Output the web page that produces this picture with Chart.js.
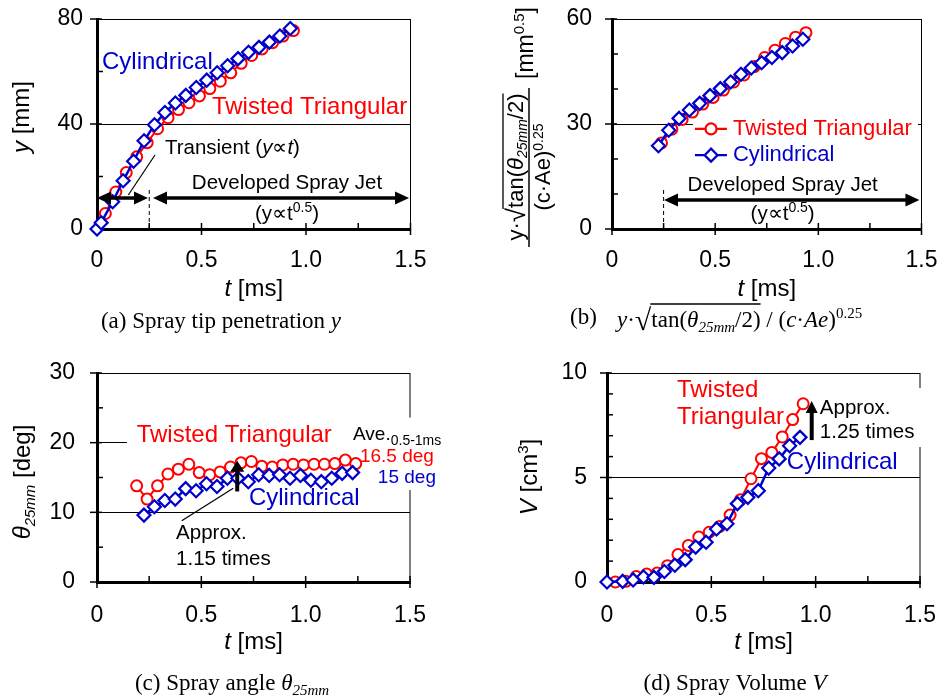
<!DOCTYPE html>
<html>
<head>
<meta charset="utf-8">
<script src="https://cdn.jsdelivr.net/npm/chart.js@4.4.1/dist/chart.umd.min.js"></script>
<style>
    body { margin: 0; background: #fff; width: 940px; height: 697px; position: relative; overflow: hidden; }
    canvas { position: absolute; }
</style>
</head>
<body>
<canvas id="chartA" width="470" height="348" style="left:0;top:0"></canvas>
<canvas id="chartB" width="470" height="348" style="left:470px;top:0"></canvas>
<canvas id="chartC" width="470" height="349" style="left:0;top:348px"></canvas>
<canvas id="chartD" width="470" height="349" style="left:470px;top:348px"></canvas>
<script>
// shared time axis
const timeTicks = [0, 0.5, 1, 1.5];
const timeMinor = [0.25, 0.75, 1.25];

// (a) spray tip penetration y [mm]
const tipTimeRed = [0.04, 0.09, 0.14, 0.19, 0.24, 0.29, 0.34, 0.39, 0.44, 0.49, 0.54, 0.59, 0.64, 0.69, 0.74, 0.79, 0.84, 0.89, 0.94];
const tipRed = [5.9, 14.1, 21.5, 27.5, 32.9, 38.2, 42.4, 45.5, 48.1, 50.7, 53.5, 56.3, 59.5, 63.1, 66.1, 68.6, 71.0, 73.5, 75.6];
const tipTimeBlue = [0, 0.02, 0.075, 0.125, 0.175, 0.225, 0.275, 0.325, 0.375, 0.425, 0.475, 0.525, 0.575, 0.625, 0.675, 0.725, 0.775, 0.825, 0.875, 0.925];
const tipBlue = [0, 2.4, 10.4, 18.4, 25.8, 33.6, 39.7, 44.4, 48.0, 50.9, 53.9, 56.7, 59.5, 62.2, 64.9, 67.3, 69.2, 71.2, 73.5, 76.4];
const tipTicks = [0, 40, 80];
const tipMinor = [20, 60];

// (b) normalised penetration [mm^0.5]
const normTimeRed = [0.24, 0.29, 0.34, 0.39, 0.44, 0.49, 0.54, 0.59, 0.64, 0.69, 0.74, 0.79, 0.84, 0.89, 0.94];
const normRed = [24.6, 28.5, 31.3, 33.4, 35.7, 37.6, 39.7, 42.0, 44.0, 46.4, 49.0, 51.1, 53.0, 54.8, 56.1];
const normTimeBlue = [0.225, 0.275, 0.325, 0.375, 0.425, 0.475, 0.525, 0.575, 0.625, 0.675, 0.725, 0.775, 0.825, 0.875, 0.925];
const normBlue = [23.8, 28.2, 31.6, 34.0, 35.9, 38.1, 40.1, 42.0, 44.2, 46.0, 47.5, 49.0, 50.4, 52.3, 54.2];
const normTicks = [0, 30, 60];
const normMinor = [10, 20, 40, 50];

// (c) spray angle [deg]
const angleTimeRed = [0.19, 0.24, 0.29, 0.34, 0.39, 0.44, 0.49, 0.54, 0.59, 0.64, 0.69, 0.74, 0.79, 0.84, 0.89, 0.94, 0.99, 1.04, 1.09, 1.14, 1.19, 1.24];
const angleRed = [13.8, 11.9, 13.8, 15.5, 16.2, 16.9, 15.7, 15.4, 15.8, 16.5, 17.1, 17.3, 16.6, 16.5, 16.8, 16.9, 16.8, 16.9, 16.9, 17.0, 17.5, 17.0];
const angleTimeBlue = [0.225, 0.275, 0.325, 0.375, 0.425, 0.475, 0.525, 0.575, 0.625, 0.675, 0.725, 0.775, 0.825, 0.875, 0.925, 0.975, 1.025, 1.075, 1.125, 1.175, 1.225];
const angleBlue = [9.6, 10.8, 11.7, 11.9, 13.4, 13.1, 14.1, 13.7, 14.9, 14.9, 14.4, 15.4, 15.3, 15.4, 14.9, 15.3, 14.6, 14.4, 14.9, 15.6, 15.7];
const angleTicks = [0, 10, 20, 30];
const angleMinor = [5, 15, 25];

// (d) spray volume [cm3]
const volTimeRed = [0.04, 0.09, 0.14, 0.19, 0.24, 0.29, 0.34, 0.39, 0.44, 0.49, 0.54, 0.59, 0.64, 0.69, 0.74, 0.79, 0.84, 0.89, 0.94];
const volRed = [0, 0.03, 0.26, 0.38, 0.43, 0.78, 1.31, 1.75, 2.15, 2.38, 2.66, 3.2, 3.94, 4.94, 5.9, 6.2, 6.94, 7.77, 8.53];
const volTimeBlue = [0, 0.075, 0.125, 0.175, 0.225, 0.275, 0.325, 0.375, 0.425, 0.475, 0.525, 0.575, 0.625, 0.675, 0.725, 0.775, 0.825, 0.875, 0.925];
const volBlue = [0, 0.03, 0.1, 0.24, 0.22, 0.5, 0.8, 1.07, 1.67, 1.9, 2.54, 2.79, 3.75, 4.05, 4.37, 5.45, 5.89, 6.52, 6.92];
const volTicks = [0, 5, 10];
const volMinor = [1, 2, 3, 4, 6, 7, 8, 9];

const SANS = '"Liberation Sans", Arial, sans-serif';
const SERIF = '"Liberation Serif", "Times New Roman", serif';
const RED = '#FF0000';
const BLUE = '#0000CC';

function f(size, style, fam) {
    return (style || '') + ' ' + size + 'px ' + (fam || SANS);
}

function zip(xs, ys) {
    return xs.map((x, i) => ({ x: x, y: ys[i] }));
}

function line(ctx, x1, y1, x2, y2) {
    ctx.beginPath();
    ctx.moveTo(x1, y1);
    ctx.lineTo(x2, y2);
    ctx.stroke();
}

function txt(ctx, s, x, y, font, color, align) {
    ctx.font = font;
    ctx.fillStyle = color || '#000';
    ctx.textAlign = align || 'left';
    ctx.textBaseline = 'middle';
    ctx.fillText(s, x, y);
}

// parts: {t, f, c, dy, ov}; baseline alphabetic
function rich(ctx, parts, x, y, align, ovH) {
    let w = 0;
    parts.forEach(p => { ctx.font = p.f; p.w = ctx.measureText(p.t).width; w += p.w; });
    let cx = align === 'center' ? x - w / 2 : (align === 'right' ? x - w : x);
    ctx.textAlign = 'left';
    ctx.textBaseline = 'alphabetic';
    let ovStart = null, ovEnd = null;
    parts.forEach(p => {
        ctx.font = p.f;
        ctx.fillStyle = p.c || '#000';
        ctx.fillText(p.t, cx, y + (p.dy || 0));
        if (p.ov) {
            if (ovStart === null) ovStart = cx;
            ovEnd = cx + p.w;
        }
        cx += p.w;
    });
    if (ovStart !== null) {
        ctx.strokeStyle = '#000';
        ctx.lineWidth = 1.3;
        line(ctx, ovStart - 1, y - ovH, ovEnd, y - ovH);
    }
    return w;
}

function head(ctx, x, y, ang, hl, hw) {
    const ux = Math.cos(ang), uy = Math.sin(ang);
    const bx = x - ux * hl, by = y - uy * hl;
    ctx.beginPath();
    ctx.moveTo(x, y);
    ctx.lineTo(bx - uy * hw, by + ux * hw);
    ctx.lineTo(bx + uy * hw, by - ux * hw);
    ctx.closePath();
    ctx.fill();
}

function arrow(ctx, p1, p2, both, w, hl, hw) {
    const ang = Math.atan2(p2[1] - p1[1], p2[0] - p1[0]);
    const ux = Math.cos(ang), uy = Math.sin(ang);
    ctx.strokeStyle = '#000';
    ctx.fillStyle = '#000';
    ctx.lineWidth = w;
    const s = both ? [p1[0] + ux * hl * 0.8, p1[1] + uy * hl * 0.8] : p1;
    line(ctx, s[0], s[1], p2[0] - ux * hl * 0.8, p2[1] - uy * hl * 0.8);
    head(ctx, p2[0], p2[1], ang, hl, hw);
    if (both) head(ctx, p1[0], p1[1], ang + Math.PI, hl, hw);
}

function dashed(ctx, p1, p2) {
    ctx.save();
    ctx.strokeStyle = '#000';
    ctx.lineWidth = 1;
    ctx.setLineDash([4, 3]);
    line(ctx, p1[0], p1[1], p2[0], p2[1]);
    ctx.restore();
}

function thin(ctx, p1, p2) {
    ctx.strokeStyle = '#000';
    ctx.lineWidth = 1.2;
    line(ctx, p1[0], p1[1], p2[0], p2[1]);
}

// "(y∝t^0.5)"
function powerLaw(ctx, p) {
    rich(ctx, [
        { t: '(y\u221Dt', f: f(20.5) },
        { t: '0.5', f: f(14), dy: -8 },
        { t: ')', f: f(20.5) }
    ], p[0], p[1] + 7, 'center');
}

// let the layout padding alone decide where the plot box sits
function noScalePadding(s) {
    s.paddingTop = 0;
    s.paddingBottom = 0;
    s.paddingLeft = 0;
    s.paddingRight = 0;
}

function overlay(spec) {
    return {
        id: 'overlay',
        beforeDatasetsDraw(chart) {
            const ctx = chart.ctx, a = chart.chartArea;
            const xs = chart.scales.x, ys = chart.scales.y;
            const P = (t, v) => [xs.getPixelForValue(t), ys.getPixelForValue(v)];
            ctx.save();
            ctx.strokeStyle = '#000';
            ctx.lineWidth = 1;
            line(ctx, a.right, a.top, a.right, a.bottom);
            ctx.lineWidth = 1.5;
            spec.yTicks.forEach(v => { const y = ys.getPixelForValue(v); line(ctx, a.left - 7, y, a.left + 5, y); });
            spec.yMinor.forEach(v => { const y = ys.getPixelForValue(v); line(ctx, a.left, y, a.left + 6, y); });
            timeTicks.forEach(t => { const x = xs.getPixelForValue(t); line(ctx, x, a.bottom + 6, x, a.bottom - 6); });
            timeMinor.forEach(t => { const x = xs.getPixelForValue(t); line(ctx, x, a.bottom, x, a.bottom - 6); });
            ctx.fillStyle = '#fff';
            (spec.boxes || []).forEach(b => {
                const p1 = P(b[0], b[1]), p2 = P(b[2], b[3]);
                ctx.fillRect(p1[0], p1[1], p2[0] - p1[0], p2[1] - p1[1]);
            });
            ctx.restore();
        },
        afterDatasetsDraw(chart) {
            const ctx = chart.ctx;
            const xs = chart.scales.x, ys = chart.scales.y;
            const P = (t, v) => [xs.getPixelForValue(t), ys.getPixelForValue(v)];
            ctx.save();
            spec.draw(ctx, P);
            ctx.restore();
        },
        afterDraw(chart) {
            const ctx = chart.ctx, a = chart.chartArea;
            ctx.save();
            rich(ctx, [{ t: 't', f: f(24, 'italic') }, { t: ' [ms]', f: f(24) }], (a.left + a.right) / 2, a.bottom + 67, 'center');
            spec.titles(ctx);
            ctx.restore();
        }
    };
}

function makeChart(id, spec) {
    const ctx = document.getElementById(id).getContext('2d');
    return new Chart(ctx, {
        type: 'scatter',
        data: {
            datasets: [{
                label: 'Twisted Triangular',
                data: zip(spec.redT, spec.redV),
                showLine: true,
                borderColor: RED,
                borderWidth: 2,
                pointStyle: 'circle',
                pointRadius: 5.5,
                pointBorderWidth: 2,
                pointBorderColor: RED,
                pointBackgroundColor: '#fff',
                clip: false,
                order: 1
            }, {
                label: 'Cylindrical',
                data: zip(spec.blueT, spec.blueV),
                showLine: true,
                borderColor: BLUE,
                borderWidth: 2.5,
                pointStyle: 'rectRot',
                pointRadius: 6.5,
                pointBorderWidth: 2.2,
                pointBorderColor: BLUE,
                pointBackgroundColor: '#fff',
                clip: false,
                order: 0
            }]
        },
        options: {
            responsive: false,
            animation: false,
            events: [],
            layout: { padding: spec.pad },
            plugins: { legend: { display: false }, tooltip: { enabled: false } },
            scales: {
                x: {
                    type: 'linear',
                    min: 0,
                    max: 1.5,
                    afterBuildTicks: s => { s.ticks = timeTicks.map(v => ({ value: v })); },
                    afterFit: s => { s.height = 40; noScalePadding(s); },
                    grid: { display: false, drawTicks: false },
                    border: { color: '#000', width: 3 },
                    ticks: { font: { family: 'Liberation Sans', size: 23 }, color: '#000', padding: spec.xPad, maxRotation: 0 }
                },
                y: {
                    min: spec.yTicks[0],
                    max: spec.yTicks[spec.yTicks.length - 1],
                    afterBuildTicks: s => { s.ticks = spec.yTicks.map(v => ({ value: v })); },
                    afterFit: s => { s.width = 60; noScalePadding(s); },
                    grid: { color: '#000', lineWidth: 1, drawTicks: false },
                    border: { color: '#000', width: 3 },
                    ticks: { font: { family: 'Liberation Sans', size: 23 }, color: '#000', padding: spec.yPad }
                }
            }
        },
        plugins: [overlay(spec)]
    });
}

// (a)
makeChart('chartA', {
    redT: tipTimeRed, redV: tipRed, blueT: tipTimeBlue, blueV: tipBlue,
    yTicks: tipTicks, yMinor: tipMinor, xPad: 18, yPad: 14,
    pad: { left: 37, top: 19, right: 59.5, bottom: 79 },
    draw(ctx, P) {
        let p = P(0.024, 63.6);
        txt(ctx, 'Cylindrical', p[0], p[1], f(24), BLUE);
        p = P(0.55, 46.5);
        txt(ctx, 'Twisted Triangular', p[0], p[1], f(24), RED);
        p = P(0.325, 31.2);
        rich(ctx, [
            { t: 'Transient (', f: f(20.5) },
            { t: 'y', f: f(20.5, 'italic') },
            { t: '\u221D', f: f(20.5) },
            { t: 't', f: f(20.5, 'italic') },
            { t: ')', f: f(20.5) }
        ], p[0], p[1] + 7, 'left');
        thin(ctx, P(0.2775, 28.2), P(0.15, 12.95));
        dashed(ctx, P(0.25, 0), P(0.25, 16));
        arrow(ctx, P(0, 11.8), P(0.244, 11.8), true, 3.5, 14, 6.5);
        arrow(ctx, P(0.268, 11.8), P(1.493, 11.8), true, 3.5, 14, 6.5);
        p = P(0.909, 17.5);
        txt(ctx, 'Developed Spray Jet', p[0], p[1], f(20.5), '#000', 'center');
        powerLaw(ctx, P(0.909, 6.1));
    },
    titles(ctx) {
        ctx.save();
        ctx.translate(29, 117);
        ctx.rotate(-Math.PI / 2);
        rich(ctx, [{ t: 'y', f: f(24, 'italic') }, { t: ' [mm]', f: f(24) }], 0, 0, 'center');
        ctx.restore();
        rich(ctx, [
            { t: '(a) Spray tip penetration ', f: f(23, '', SERIF) },
            { t: 'y', f: f(23, 'italic', SERIF) }
        ], 221, 328, 'center');
    }
});

// (b)
makeChart('chartB', {
    redT: normTimeRed, redV: normRed, blueT: normTimeBlue, blueV: normBlue,
    yTicks: normTicks, yMinor: normMinor, xPad: 18, yPad: 20,
    pad: { left: 82, top: 19, right: 18.5, bottom: 79 },
    boxes: [[0.392, 33.1, 1.483, 17.7]],
    draw(ctx, P) {
        dashed(ctx, P(0.25, 0), P(0.25, 11.4));
        arrow(ctx, P(0.252, 8.3), P(1.49, 8.3), true, 3.5, 14, 6.5);
        let p = P(0.827, 12.6);
        txt(ctx, 'Developed Spray Jet', p[0], p[1], f(20.5), '#000', 'center');
        powerLaw(ctx, P(0.827, 4.6));
        // legend
        const rows = [[28.6, RED, 'Twisted Triangular', 'circle'], [21.1, BLUE, 'Cylindrical', 'rectRot']];
        rows.forEach(r => {
            const a = P(0.402, r[0]), b = P(0.557, r[0]), m = P(0.48, r[0]), tx = P(0.586, r[0]);
            ctx.strokeStyle = r[1];
            ctx.lineWidth = 2.2;
            line(ctx, a[0], a[1], b[0], b[1]);
            ctx.fillStyle = '#fff';
            ctx.beginPath();
            if (r[3] === 'circle') {
                ctx.arc(m[0], m[1], 5.5, 0, Math.PI * 2);
            } else {
                ctx.moveTo(m[0], m[1] - 6.5); ctx.lineTo(m[0] + 6.5, m[1]);
                ctx.lineTo(m[0], m[1] + 6.5); ctx.lineTo(m[0] - 6.5, m[1]); ctx.closePath();
            }
            ctx.fill();
            ctx.stroke();
            txt(ctx, r[2], tx[0], tx[1], f(22), r[1]);
        });
    },
    titles(ctx) {
        ctx.save();
        ctx.translate(59, 167);
        ctx.rotate(-Math.PI / 2);
        rich(ctx, [
            { t: 'y\u00B7', f: f(22) },
            { t: '\u221A', f: f(26), dy: 2 },
            { t: 'tan(', f: f(22), ov: true },
            { t: '\u03B8', f: f(22, 'italic'), ov: true },
            { t: '25mm', f: f(14, 'italic'), dy: 4, ov: true },
            { t: '/2)', f: f(22), ov: true }
        ], 0, -6, 'center', 20);
        ctx.strokeStyle = '#000';
        ctx.lineWidth = 1.5;
        line(ctx, -80, 0, 79, 0);
        rich(ctx, [
            { t: '(c\u00B7Ae)', f: f(22) },
            { t: '0.25', f: f(14), dy: -7 }
        ], 0, 21, 'center');
        rich(ctx, [
            { t: '[mm', f: f(23) },
            { t: '0.5', f: f(15), dy: -9 },
            { t: ']', f: f(23) }
        ], 124, 4, 'center');
        ctx.restore();
        txt(ctx, '(b)', 100, 318, f(23, '', SERIF));
        rich(ctx, [
            { t: 'y', f: f(23, 'italic', SERIF) },
            { t: '\u00B7', f: f(23, '', SERIF) },
            { t: '\u221A', f: f(30, '', SERIF), dy: 3 },
            { t: 'tan(', f: f(23, '', SERIF), ov: true },
            { t: '\u03B8', f: f(23, 'italic', SERIF), ov: true },
            { t: '25mm', f: f(15, 'italic', SERIF), dy: 5, ov: true },
            { t: '/2)', f: f(23, '', SERIF), ov: true },
            { t: ' / (', f: f(23, '', SERIF) },
            { t: 'c', f: f(23, 'italic', SERIF) },
            { t: '\u00B7', f: f(23, '', SERIF) },
            { t: 'Ae', f: f(23, 'italic', SERIF) },
            { t: ')', f: f(23, '', SERIF) },
            { t: '0.25', f: f(15, '', SERIF), dy: -9 }
        ], 147, 327, 'left', 23);
    }
});

// (c)
makeChart('chartC', {
    redT: angleTimeRed, redV: angleRed, blueT: angleTimeBlue, blueV: angleBlue,
    yTicks: angleTicks, yMinor: angleMinor, xPad: 20, yPad: 22,
    pad: { left: 37, top: 25, right: 60, bottom: 75 },
    boxes: [[0.144, 23.6, 1.643, 13.2]],
    draw(ctx, P) {
        let p = P(0.19, 21.1);
        txt(ctx, 'Twisted Triangular', p[0], p[1], f(24), RED);
        p = P(1.227, 21.4);
        rich(ctx, [{ t: 'Ave.', f: f(19) }, { t: '0.5-1ms', f: f(14), dy: 5 }], p[0], p[1] + 7, 'left');
        p = P(1.26, 18);
        txt(ctx, '16.5 deg', p[0], p[1], f(19), RED);
        p = P(1.346, 14.9);
        txt(ctx, '15 deg', p[0], p[1], f(19), BLUE);
        p = P(0.728, 12);
        txt(ctx, 'Cylindrical', p[0], p[1], f(24), BLUE);
        p = P(0.379, 7.0);
        txt(ctx, 'Approx.', p[0], p[1], f(20.5));
        p = P(0.379, 3.2);
        txt(ctx, '1.15 times', p[0], p[1], f(20.5));
        thin(ctx, P(0.406, 8.8), P(0.653, 13.46));
        arrow(ctx, P(0.672, 13), P(0.672, 17.4), false, 4, 11, 7);
    },
    titles(ctx) {
        ctx.save();
        ctx.translate(30, 134);
        ctx.rotate(-Math.PI / 2);
        rich(ctx, [
            { t: '\u03B8', f: f(24, 'italic') },
            { t: '25mm', f: f(15, 'italic'), dy: 5 },
            { t: ' [deg]', f: f(24) }
        ], 0, 0, 'center');
        ctx.restore();
        rich(ctx, [
            { t: '(c) Spray angle ', f: f(23, '', SERIF) },
            { t: '\u03B8', f: f(23, 'italic', SERIF) },
            { t: '25mm', f: f(15, 'italic', SERIF), dy: 5 }
        ], 232, 342, 'center');
    }
});

// (d)
makeChart('chartD', {
    redT: volTimeRed, redV: volRed, blueT: volTimeBlue, blueV: volBlue,
    yTicks: volTicks, yMinor: volMinor, xPad: 20, yPad: 20,
    pad: { left: 77, top: 25, right: 20, bottom: 75 },
    boxes: [[1.011, 9.28, 1.547, 6.46]],
    draw(ctx, P) {
        let p = P(0.335, 9.19);
        txt(ctx, 'Twisted', p[0], p[1], f(24), RED);
        p = P(0.335, 7.9);
        txt(ctx, 'Triangular', p[0], p[1], f(24), RED);
        p = P(0.862, 5.74);
        txt(ctx, 'Cylindrical', p[0], p[1], f(24), BLUE);
        p = P(1.02, 8.33);
        txt(ctx, 'Approx.', p[0], p[1], f(20.5));
        p = P(1.02, 7.18);
        txt(ctx, '1.25 times', p[0], p[1], f(20.5));
        arrow(ctx, P(0.981, 6.79), P(0.981, 8.66), false, 4, 12, 6);
    },
    titles(ctx) {
        ctx.save();
        ctx.translate(67, 129);
        ctx.rotate(-Math.PI / 2);
        rich(ctx, [
            { t: 'V', f: f(24, 'italic') },
            { t: ' [cm', f: f(24) },
            { t: '3', f: f(15), dy: -9 },
            { t: ']', f: f(24) }
        ], 0, 0, 'center');
        ctx.restore();
        rich(ctx, [
            { t: '(d) Spray Volume ', f: f(23, '', SERIF) },
            { t: 'V', f: f(23, 'italic', SERIF) }
        ], 265, 342, 'center');
    }
});
</script>
</body>
</html>
